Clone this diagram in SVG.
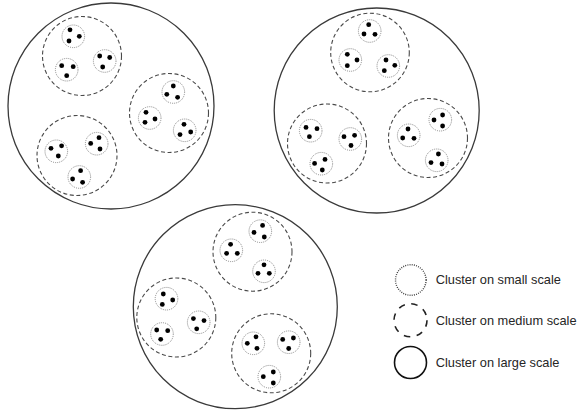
<svg xmlns="http://www.w3.org/2000/svg" width="578" height="410" viewBox="0 0 578 410">
  <style>
    .large { fill: none; stroke: #3a3a3a; stroke-width: 1.3; }
    .medium { fill: none; stroke: #4a4a4a; stroke-width: 1.1; stroke-dasharray: 4 2.6; }
    .small { fill: none; stroke: #8a8a8a; stroke-width: 1; stroke-dasharray: 1 1; }
    .dot { fill: #000; }
    .lg-small { fill: none; stroke: #333; stroke-width: 1.4; stroke-dasharray: 0.9 1.3; }
    .lg-medium { fill: none; stroke: #222; stroke-width: 1.6; stroke-dasharray: 6.5 6.5; }
    .lg-large { fill: none; stroke: #111; stroke-width: 1.6; }
    .label { font-family: "Liberation Sans", Arial, sans-serif; font-size: 12.8px; fill: #262626; }
  </style>

  <rect width="578" height="410" fill="#fff"/>

  <!-- Large-scale cluster A (top left) -->
  <g id="cluster-a">
    <circle class="large" cx="111" cy="106" r="103"/>
    <g id="cluster-a1">
      <circle class="medium" cx="82" cy="56" r="39.5"/>
      <g transform="translate(73.3,36.3)"><circle class="small" r="11.3"/><circle class="dot" cx="-3.3" cy="-6.5" r="2.4"/><circle class="dot" cx="-4.3" cy="4.7" r="2.4"/><circle class="dot" cx="6" cy="0" r="2.4"/></g>
      <g transform="translate(66.7,69.7)"><circle class="small" r="11.3"/><circle class="dot" cx="-5" cy="-4" r="2.4"/><circle class="dot" cx="6.5" cy="-3" r="2.4"/><circle class="dot" cx="0" cy="6" r="2.4"/></g>
      <g transform="translate(104.7,61)"><circle class="small" r="11.3"/><circle class="dot" cx="-5" cy="-5" r="2.4"/><circle class="dot" cx="5" cy="-3.5" r="2.4"/><circle class="dot" cx="-2" cy="6" r="2.4"/></g>
    </g>
    <g id="cluster-a2">
      <circle class="medium" cx="169" cy="113" r="39.5"/>
      <g transform="translate(173.3,92)"><circle class="small" r="11.3"/><circle class="dot" cx="0" cy="-6" r="2.4"/><circle class="dot" cx="-6.5" cy="2.3" r="2.4"/><circle class="dot" cx="4.3" cy="5.3" r="2.4"/></g>
      <g transform="translate(149.7,118)"><circle class="small" r="11.3"/><circle class="dot" cx="-3.7" cy="-5.7" r="2.4"/><circle class="dot" cx="-4.7" cy="4.3" r="2.4"/><circle class="dot" cx="5.3" cy="1" r="2.4"/></g>
      <g transform="translate(184.7,130.3)"><circle class="small" r="11.3"/><circle class="dot" cx="-0.7" cy="-6" r="2.4"/><circle class="dot" cx="-4.7" cy="4.3" r="2.4"/><circle class="dot" cx="6" cy="1.7" r="2.4"/></g>
    </g>
    <g id="cluster-a3">
      <circle class="medium" cx="77" cy="155.5" r="40"/>
      <g transform="translate(56.3,151.3)"><circle class="small" r="11.3"/><circle class="dot" cx="-5.3" cy="-3" r="2.4"/><circle class="dot" cx="5.3" cy="-5.5" r="2.4"/><circle class="dot" cx="2" cy="4.7" r="2.4"/></g>
      <g transform="translate(96.7,143.7)"><circle class="small" r="11.3"/><circle class="dot" cx="-6" cy="-0.3" r="2.4"/><circle class="dot" cx="2.3" cy="-6" r="2.4"/><circle class="dot" cx="3.3" cy="5.3" r="2.4"/></g>
      <g transform="translate(79.3,177)"><circle class="small" r="11.3"/><circle class="dot" cx="1.3" cy="-6.3" r="2.4"/><circle class="dot" cx="-6.7" cy="2" r="2.4"/><circle class="dot" cx="3.3" cy="5.3" r="2.4"/></g>
    </g>
  </g>

  <!-- Large-scale cluster B (top right) -->
  <g id="cluster-b">
    <circle class="large" cx="376.7" cy="110.5" r="102.5"/>
    <g id="cluster-b1">
      <circle class="medium" cx="370" cy="52.5" r="39.3"/>
      <g transform="translate(369.7,31)"><circle class="small" r="11.3"/><circle class="dot" cx="-1" cy="-6.3" r="2.4"/><circle class="dot" cx="-5.7" cy="3" r="2.4"/><circle class="dot" cx="5.3" cy="3.3" r="2.4"/></g>
      <g transform="translate(350.3,60)"><circle class="small" r="11.3"/><circle class="dot" cx="-3" cy="-5.7" r="2.4"/><circle class="dot" cx="6.7" cy="0" r="2.4"/><circle class="dot" cx="-3" cy="5.7" r="2.4"/></g>
      <g transform="translate(388.3,66)"><circle class="small" r="11.3"/><circle class="dot" cx="-2.3" cy="-6" r="2.4"/><circle class="dot" cx="6.5" cy="-0.7" r="2.4"/><circle class="dot" cx="-4" cy="4.7" r="2.4"/></g>
    </g>
    <g id="cluster-b2">
      <circle class="medium" cx="327" cy="143.5" r="39.5"/>
      <g transform="translate(310.7,130.7)"><circle class="small" r="11.3"/><circle class="dot" cx="-4.7" cy="-3.3" r="2.4"/><circle class="dot" cx="6.3" cy="-2" r="2.4"/><circle class="dot" cx="-1.3" cy="6" r="2.4"/></g>
      <g transform="translate(350.3,139)"><circle class="small" r="11.3"/><circle class="dot" cx="-6.3" cy="-2.3" r="2.4"/><circle class="dot" cx="4.3" cy="-3.7" r="2.4"/><circle class="dot" cx="0.7" cy="6.5" r="2.4"/></g>
      <g transform="translate(321.3,163.7)"><circle class="small" r="11.3"/><circle class="dot" cx="-6.7" cy="-0.3" r="2.4"/><circle class="dot" cx="3.7" cy="-4.3" r="2.4"/><circle class="dot" cx="1" cy="6.3" r="2.4"/></g>
    </g>
    <g id="cluster-b3">
      <circle class="medium" cx="428" cy="138" r="39.5"/>
      <g transform="translate(408.7,135.3)"><circle class="small" r="11.3"/><circle class="dot" cx="-0.7" cy="-6.3" r="2.4"/><circle class="dot" cx="-6" cy="2.7" r="2.4"/><circle class="dot" cx="5.3" cy="3" r="2.4"/></g>
      <g transform="translate(440.3,119.7)"><circle class="small" r="11.3"/><circle class="dot" cx="-6.3" cy="0.3" r="2.4"/><circle class="dot" cx="2.3" cy="-4.7" r="2.4"/><circle class="dot" cx="2.3" cy="6.3" r="2.4"/></g>
      <g transform="translate(436.7,160.3)"><circle class="small" r="11.3"/><circle class="dot" cx="1.7" cy="-6.3" r="2.4"/><circle class="dot" cx="-5.7" cy="2.3" r="2.4"/><circle class="dot" cx="5.3" cy="3.7" r="2.4"/></g>
    </g>
  </g>

  <!-- Large-scale cluster C (bottom) -->
  <g id="cluster-c">
    <circle class="large" cx="235.3" cy="306.7" r="102"/>
    <g id="cluster-c1">
      <circle class="medium" cx="252.5" cy="251.7" r="39.5"/>
      <g transform="translate(260.3,231.2)"><circle class="small" r="11.3"/><circle class="dot" cx="2.3" cy="-5.8" r="2.4"/><circle class="dot" cx="-6.3" cy="1.2" r="2.4"/><circle class="dot" cx="4" cy="5.8" r="2.4"/></g>
      <g transform="translate(231.3,250.3)"><circle class="small" r="11.3"/><circle class="dot" cx="-0.7" cy="-6" r="2.4"/><circle class="dot" cx="-4.7" cy="3" r="2.4"/><circle class="dot" cx="6" cy="3" r="2.4"/></g>
      <g transform="translate(264,271.3)"><circle class="small" r="11.3"/><circle class="dot" cx="0" cy="-6.5" r="2.4"/><circle class="dot" cx="-6" cy="2" r="2.4"/><circle class="dot" cx="5.3" cy="2" r="2.4"/></g>
    </g>
    <g id="cluster-c2">
      <circle class="medium" cx="176.3" cy="317.5" r="39.5"/>
      <g transform="translate(166.5,298.7)"><circle class="small" r="11.3"/><circle class="dot" cx="-3.2" cy="-4.7" r="2.4"/><circle class="dot" cx="6.2" cy="1.3" r="2.4"/><circle class="dot" cx="-4.2" cy="5.7" r="2.4"/></g>
      <g transform="translate(198.7,322.3)"><circle class="small" r="11.3"/><circle class="dot" cx="-5.3" cy="-3.7" r="2.4"/><circle class="dot" cx="5.3" cy="-1.7" r="2.4"/><circle class="dot" cx="-2" cy="6.5" r="2.4"/></g>
      <g transform="translate(162,334)"><circle class="small" r="11.3"/><circle class="dot" cx="-5.3" cy="-4" r="2.4"/><circle class="dot" cx="5.7" cy="-3.3" r="2.4"/><circle class="dot" cx="-1.3" cy="5.3" r="2.4"/></g>
    </g>
    <g id="cluster-c3">
      <circle class="medium" cx="271.2" cy="353.3" r="39.5"/>
      <g transform="translate(253.3,343.3)"><circle class="small" r="11.3"/><circle class="dot" cx="-6" cy="0" r="2.4"/><circle class="dot" cx="2.7" cy="-6.5" r="2.4"/><circle class="dot" cx="3.7" cy="5" r="2.4"/></g>
      <g transform="translate(288.7,342.2)"><circle class="small" r="11.3"/><circle class="dot" cx="-6" cy="-2.8" r="2.4"/><circle class="dot" cx="4.7" cy="-4.2" r="2.4"/><circle class="dot" cx="0" cy="6.3" r="2.4"/></g>
      <g transform="translate(269.3,376.7)"><circle class="small" r="11.3"/><circle class="dot" cx="4" cy="-4.7" r="2.4"/><circle class="dot" cx="-6" cy="0" r="2.4"/><circle class="dot" cx="4" cy="6.3" r="2.4"/></g>
    </g>
  </g>

  <!-- Legend -->
  <g id="legend">
    <g id="legend-small">
      <circle class="lg-small" cx="410.8" cy="280" r="15.3"/>
      <text class="label" x="435.7" y="284.3">Cluster on small scale</text>
    </g>
    <g id="legend-medium">
      <circle class="lg-medium" cx="410.5" cy="320.3" r="16.5"/>
      <text class="label" x="435.7" y="324.5">Cluster on medium scale</text>
    </g>
    <g id="legend-large">
      <circle class="lg-large" cx="410.5" cy="362.5" r="16"/>
      <text class="label" x="435.7" y="366.7">Cluster on large scale</text>
    </g>
  </g>
</svg>
